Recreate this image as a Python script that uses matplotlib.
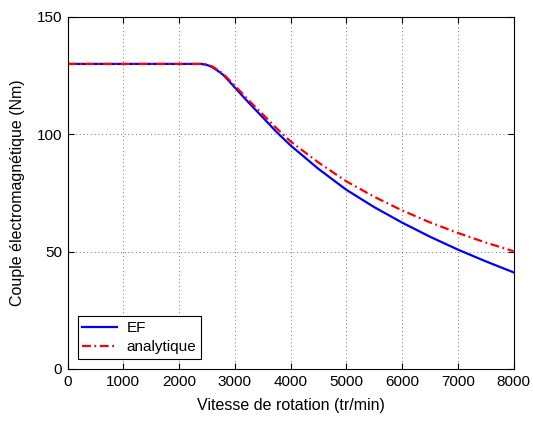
import numpy as np
import matplotlib.pyplot as plt

plt.rcParams['font.family'] = ['Liberation Sans', 'DejaVu Sans']

# vitesse (tr/min) et couple (Nm)
vitesse = [0, 1000, 2000, 2400, 2500, 2600, 2700, 2800, 3000, 3250, 3500, 3750,
           4000, 4500, 5000, 5500, 6000, 6500, 7000, 7500, 8000]
couple_ef = [130, 130, 130, 130, 129.6, 128.6, 127.0, 125.2, 120.0, 113.5, 107.3, 101.0,
             95.3, 85.3, 76.4, 69.0, 62.4, 56.4, 50.9, 45.9, 41.2]
couple_analytique = [130, 130, 130, 130, 129.8, 128.9, 127.4, 125.6, 120.8, 114.5, 108.6, 102.6,
                     97.0, 88.0, 80.0, 73.4, 67.6, 62.5, 58.0, 53.9, 50.2]

fig = plt.figure(figsize=(5.33, 4.21), dpi=100)
ax = fig.add_axes([67.5 / 533, 1 - 369 / 421, 446 / 533, 352 / 421])

ax.plot(vitesse, couple_ef, color='#0000ff', lw=1.6, label='EF')
ax.plot(vitesse, couple_analytique, color='#ff0000', lw=1.6, dashes=[4, 1.6, 0.8, 1.6],
        label='analytique')

ax.set_xlim(0, 8000)
ax.set_ylim(0, 150)
ax.set_xticks(np.arange(0, 8001, 1000))
ax.set_yticks([0, 50, 100, 150])
ax.grid(True, ls=(0, (1, 3.5)), color='#444444', lw=0.6)
ax.tick_params(direction='in', labelsize=11, length=4, top=True, right=True, pad=4)
for s in ax.spines.values():
    s.set_linewidth(0.8)

ax.set_xlabel('Vitesse de rotation (tr/min)', fontsize=11.5, labelpad=7)
ax.set_ylabel('Couple électromagnétique (Nm)', fontsize=11.5, labelpad=8)

leg = ax.legend(loc='lower left', fontsize=11, fancybox=False, framealpha=1,
                edgecolor='black', handlelength=2.3, handletextpad=0.6,
                labelspacing=0.35, borderpad=0.3, borderaxespad=0,
                bbox_to_anchor=(10 / 446, 10 / 352))
leg.get_frame().set_linewidth(0.8)

fig.savefig('out.png', dpi=100)
